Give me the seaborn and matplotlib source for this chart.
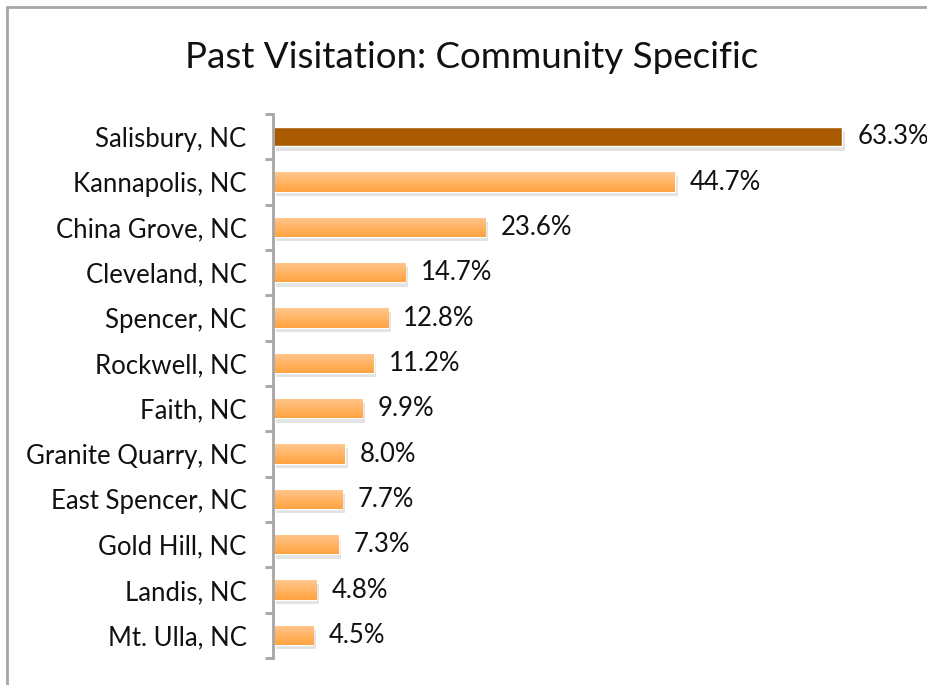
import matplotlib
matplotlib.use("Agg")
import matplotlib.pyplot as plt
import matplotlib.patheffects as pe
from matplotlib.lines import Line2D
import numpy as np
import seaborn as sns

communities = [
    "Salisbury, NC", "Kannapolis, NC", "China Grove, NC", "Cleveland, NC",
    "Spencer, NC", "Rockwell, NC", "Faith, NC", "Granite Quarry, NC",
    "East Spencer, NC", "Gold Hill, NC", "Landis, NC", "Mt. Ulla, NC",
]
visited_pct = [63.3, 44.7, 23.6, 14.7, 12.8, 11.2, 9.9, 8.0, 7.7, 7.3, 4.8, 4.5]
value_labels = [f"{v:.1f}%" for v in visited_pct]

HIGHLIGHT = "#A95A00"
BAR_TOP = "#FFC78C"
BAR_BOTTOM = "#FFA23F"
GRAY = "#A6A6A6"

sns.set_style("white")
plt.rcParams["font.family"] = ["Lato", "DejaVu Sans"]

fig = plt.figure(figsize=(9.28, 6.85), dpi=100)
ax = fig.add_axes([273 / 928, 1 - 658 / 685, 1 - 273 / 928, (658 - 114) / 685])

palette = [HIGHLIGHT] + [BAR_BOTTOM] * (len(communities) - 1)
sns.barplot(x=visited_pct, y=communities, hue=communities, palette=palette,
            legend=False, width=0.43, orient="h", ax=ax, saturation=1)

# gradient fill + soft shadow on the bars
grad = np.linspace(0, 1, 64).reshape(-1, 1)
cmap = matplotlib.colors.LinearSegmentedColormap.from_list("bar", [BAR_TOP, BAR_BOTTOM])
for i, patch in enumerate(ax.patches):
    patch.set_path_effects([pe.SimplePatchShadow(offset=(2, -3), alpha=0.18, shadow_rgbFace="#666666"),
                            pe.Normal()])
    if i == 0:
        continue
    x, y = patch.get_x(), patch.get_y()
    w, h = patch.get_width(), patch.get_height()
    im = ax.imshow(grad, cmap=cmap, aspect="auto", extent=(x, x + w, y + h, y),
                   origin="upper", zorder=patch.get_zorder() + 0.1)
    im.set_clip_path(patch)

# one container per community (hue = category)
for container, label in zip(ax.containers, value_labels):
    ax.bar_label(container, labels=[label], padding=11, fontsize=18.5, color="#111111")

ax.set_xlim(0, (928 - 273) / 8.99)
ax.set_ylim(len(communities) - 0.5, -0.5)
ax.set_xlabel("")
ax.set_ylabel("")
ax.set_xticks([])

for side in ["top", "right", "bottom"]:
    ax.spines[side].set_visible(False)
ax.spines["left"].set_color(GRAY)
ax.spines["left"].set_linewidth(2)

ax.set_yticks(np.arange(len(communities)))
ax.set_yticklabels(communities, fontsize=18.5, color="#111111")
ax.set_yticks(np.arange(-0.5, len(communities)), minor=True)
ax.tick_params(axis="y", which="major", length=0, pad=19)
ax.tick_params(axis="y", which="minor", length=6, width=2, color=GRAY, left=True)

fig.text(472 / 928, 1 - 57 / 685, "Past Visitation: Community Specific",
         ha="center", va="center", fontsize=26.5, color="#111111")

# outer chart frame
fig.add_artist(Line2D([7 / 928, 7 / 928], [0, 1 - 7 / 685], color=GRAY, linewidth=2))
fig.add_artist(Line2D([7 / 928, 1], [1 - 7 / 685, 1 - 7 / 685], color=GRAY, linewidth=2))

fig.savefig("out.png", dpi=100)
